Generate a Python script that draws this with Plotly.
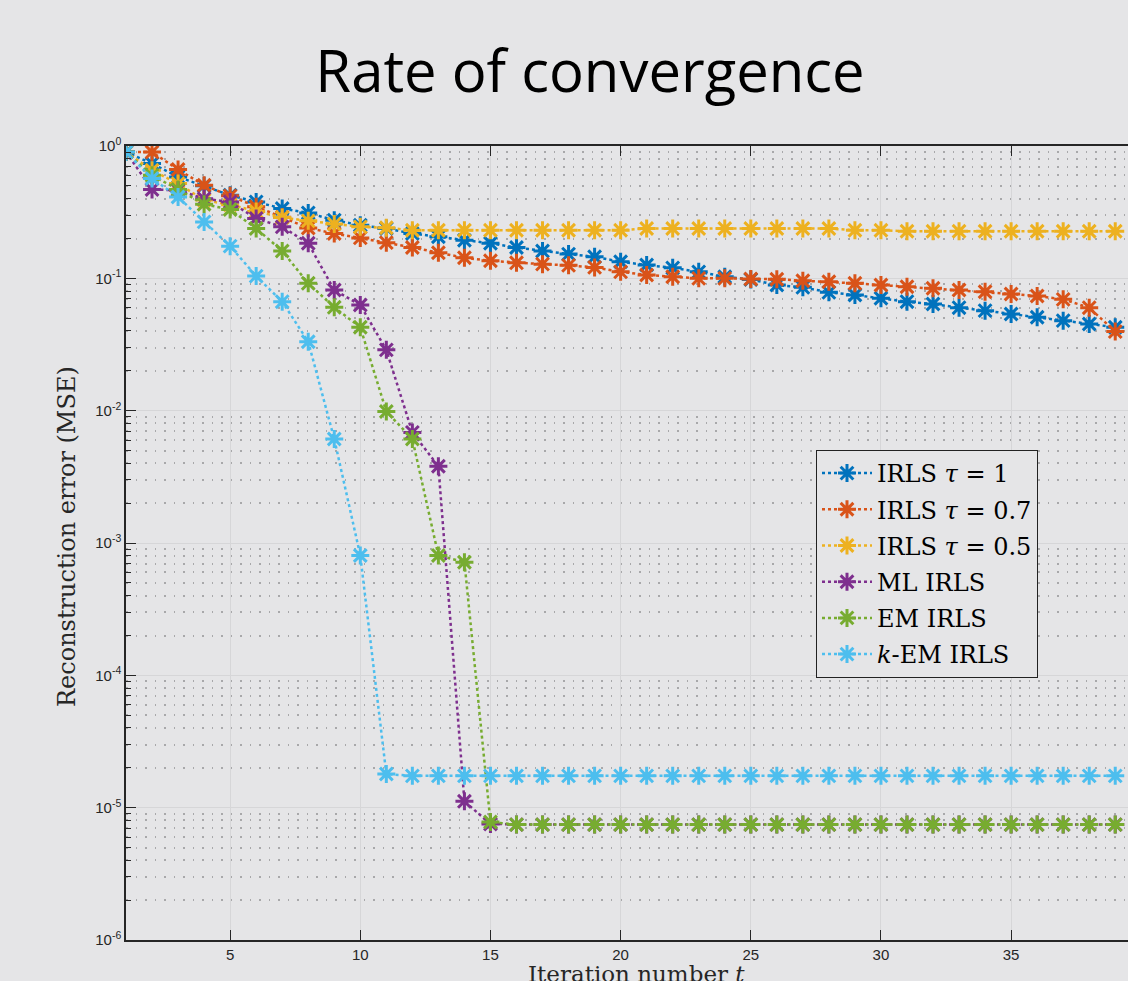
import plotly.graph_objects as go

iterations = list(range(1, 40))

irls_tau1 = [0.90, 0.737, 0.584, 0.50, 0.425, 0.378, 0.337, 0.312, 0.275, 0.252,
             0.238, 0.218, 0.206, 0.194, 0.184, 0.171, 0.161, 0.1525, 0.1455, 0.1334,
             0.126, 0.120, 0.112, 0.1028, 0.098, 0.089, 0.0855, 0.0784, 0.0748, 0.0707,
             0.0666, 0.0640, 0.0600, 0.0570, 0.0538, 0.0508, 0.0479, 0.0452, 0.0427]

irls_tau07 = [0.90, 0.90, 0.664, 0.505, 0.42, 0.347, 0.29, 0.24, 0.218, 0.202,
              0.186, 0.171, 0.156, 0.143, 0.1357, 0.131, 0.128, 0.1253, 0.121, 0.112,
              0.106, 0.1028, 0.100, 0.100, 0.0988, 0.0985, 0.0959, 0.0943, 0.0917, 0.089,
              0.0864, 0.0841, 0.0816, 0.0792, 0.0761, 0.0735, 0.0694, 0.060, 0.0396]

irls_tau05 = [0.90, 0.656, 0.52, 0.39, 0.36, 0.32, 0.288, 0.272, 0.257, 0.245,
              0.241, 0.231, 0.231, 0.231, 0.231, 0.231, 0.231, 0.231, 0.231, 0.231,
              0.238, 0.238, 0.238, 0.238, 0.238, 0.238, 0.238, 0.238, 0.231, 0.231,
              0.227, 0.227, 0.227, 0.227, 0.227, 0.227, 0.227, 0.227, 0.227]

ml_irls = [0.90, 0.469, 0.463, 0.40, 0.378, 0.283, 0.245, 0.184, 0.0816, 0.0629,
           0.0288, 0.00685, 0.0038, 1.117e-5, 7.53e-6, 7.45e-6, 7.45e-6, 7.45e-6, 7.45e-6, 7.45e-6,
           7.45e-6, 7.45e-6, 7.45e-6, 7.45e-6, 7.45e-6, 7.45e-6, 7.45e-6, 7.45e-6, 7.45e-6, 7.45e-6,
           7.45e-6, 7.45e-6, 7.45e-6, 7.45e-6, 7.45e-6, 7.45e-6, 7.45e-6, 7.45e-6, 7.45e-6]

em_irls = [0.90, 0.60, 0.47, 0.363, 0.331, 0.238, 0.161, 0.0917, 0.0604, 0.0427,
           0.00986, 0.00611, 0.000805, 0.000716, 7.8e-6, 7.45e-6, 7.45e-6, 7.45e-6, 7.45e-6, 7.45e-6,
           7.45e-6, 7.45e-6, 7.45e-6, 7.45e-6, 7.45e-6, 7.45e-6, 7.45e-6, 7.45e-6, 7.45e-6, 7.45e-6,
           7.45e-6, 7.45e-6, 7.45e-6, 7.45e-6, 7.45e-6, 7.45e-6, 7.45e-6, 7.45e-6, 7.45e-6]

kem_irls = [0.90, 0.568, 0.412, 0.267, 0.175, 0.104, 0.0666, 0.0332, 0.00611, 0.000805,
            1.795e-5, 1.74e-5, 1.74e-5, 1.74e-5, 1.74e-5, 1.74e-5, 1.74e-5, 1.74e-5, 1.74e-5, 1.74e-5,
            1.74e-5, 1.74e-5, 1.74e-5, 1.74e-5, 1.74e-5, 1.74e-5, 1.74e-5, 1.74e-5, 1.74e-5, 1.74e-5,
            1.74e-5, 1.74e-5, 1.74e-5, 1.74e-5, 1.74e-5, 1.74e-5, 1.74e-5, 1.74e-5, 1.74e-5]

series_names = ["IRLS <i>τ</i> = 1", "IRLS <i>τ</i> = 0.7", "IRLS <i>τ</i> = 0.5",
                "ML IRLS", "EM IRLS", "<i>k</i>-EM IRLS"]
series_values = [irls_tau1, irls_tau07, irls_tau05, ml_irls, em_irls, kem_irls]
colors = ["#0072BD", "#D95319", "#EDB120", "#7E2F8E", "#77AC30", "#4DBEEE"]

x_ticks = [5, 10, 15, 20, 25, 30, 35]
y_tickvals = [1e-6, 1e-5, 1e-4, 1e-3, 1e-2, 1e-1, 1e0]
y_ticktext = ["10<sup>-6</sup>", "10<sup>-5</sup>", "10<sup>-4</sup>", "10<sup>-3</sup>",
              "10<sup>-2</sup>", "10<sup>-1</sup>", "10<sup>0</sup>"]
y_minor = [k * 10.0 ** e for e in range(-6, 0) for k in range(2, 10)]

bg = "#e5e5e7"
fig = go.Figure()
for i, (name, vals, col) in enumerate(zip(series_names, series_values, colors)):
    fig.add_trace(go.Scatter(
        x=iterations, y=vals, name=name, mode="lines+markers", legendgroup=f"g{i}",
        line=dict(color=col, width=2.5, dash="dot"),
        marker=dict(symbol="asterisk-open", size=15, color=col, line=dict(color=col, width=3)),
    ))

fig.update_layout(
    width=1128, height=981,
    paper_bgcolor=bg, plot_bgcolor=bg,
    margin=dict(l=126, r=0, t=146, b=41),
    title=dict(text="Rate of convergence", x=590 / 1128, xanchor="center",
               y=1 - 72 / 981, yanchor="middle",
               font=dict(family="Open Sans", size=58, color="black")),
    showlegend=True,
    legend=dict(x=(816 - 126) / 1002, y=(940 - 450) / 794, xanchor="left", yanchor="top",
                bgcolor=bg, bordercolor="#222222", borderwidth=1,
                font=dict(family="DejaVu Serif", size=24, color="black"),
                tracegroupgap=2, itemwidth=50),
    annotations=[
        dict(text="Iteration number <i>t</i>", xref="paper", yref="paper",
             x=(636 - 126) / 1002, y=-(974 - 940) / 794, xanchor="center", yanchor="middle",
             showarrow=False, font=dict(family="DejaVu Serif", size=23, color="#262626")),
        dict(text="Reconstruction error (MSE)", xref="paper", yref="paper",
             x=-(126 - 67) / 1002, y=(940 - 537) / 794, xanchor="center", yanchor="middle",
             textangle=-90, showarrow=False,
             font=dict(family="DejaVu Serif", size=24, color="#262626")),
    ],
)
fig.update_xaxes(
    range=[1, 39.49], tickvals=x_ticks, ticks="inside", ticklen=10, tickwidth=1.3,
    tickcolor="#262626", showline=True, linecolor="#262626", linewidth=1.5, mirror="ticks",
    showgrid=True, gridcolor="#d6d6d8", gridwidth=1, zeroline=False,
    tickfont=dict(family="Liberation Sans", size=15, color="#262626"),
    automargin=False,
)
fig.update_yaxes(
    type="log", range=[-6, 0], tickvals=y_tickvals, ticktext=y_ticktext,
    ticks="inside", ticklen=10, tickwidth=1.3, tickcolor="#262626",
    showline=True, linecolor="#262626", linewidth=1.5, mirror=False,
    showgrid=True, gridcolor="#d6d6d8", gridwidth=1, zeroline=False,
    tickfont=dict(family="Liberation Sans", size=15, color="#262626"),
    minor=dict(tickvals=y_minor, ticks="inside", ticklen=5, tickcolor="#262626",
               showgrid=True, gridcolor="#a8a8aa", griddash="1.5px,8px", gridwidth=1.5),
    automargin=False,
)

fig.write_html("out.html")
